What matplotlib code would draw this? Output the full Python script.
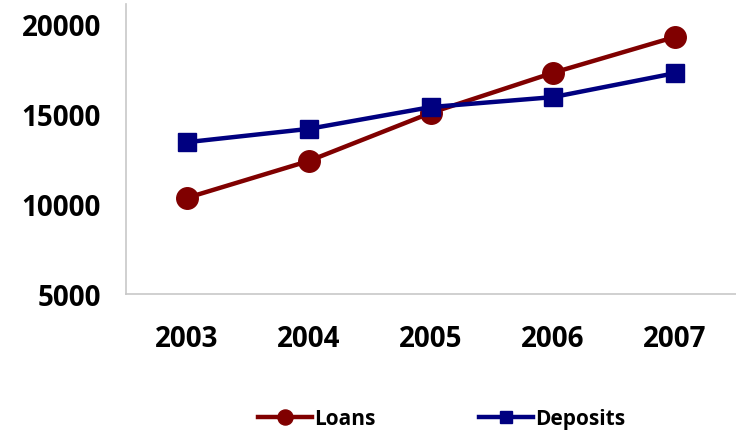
import matplotlib.pyplot as plt

years = ['2003', '2004', '2005', '2006', '2007']
loans = [10330, 12380, 15050, 17270, 19260]
deposits = [13420, 14160, 15370, 15920, 17250]
yticks = [5000, 10000, 15000, 20000]

plt.rcParams['font.family'] = ['Open Sans', 'DejaVu Sans']
plt.rcParams['font.weight'] = 'bold'

fig = plt.figure(figsize=(7.36, 4.35), dpi=100)
ax = fig.add_axes([0.171, 0.322, 0.829, 0.667])

x = range(len(years))
ax.plot(x, loans, color='#800000', lw=3.2, marker='o', ms=15.5, label='Loans')
ax.plot(x, deposits, color='#000080', lw=3.2, marker='s', ms=13, label='Deposits')

ax.set_xlim(-0.5, 4.5)
ax.set_ylim(5000, 21100)
ax.set_xticks(list(x))
ax.set_xticklabels(years)
ax.set_yticks(yticks)
ax.tick_params(length=0, labelsize=20)
ax.tick_params(axis='x', pad=22)
ax.tick_params(axis='y', pad=18)

for s in ['top', 'right']:
    ax.spines[s].set_visible(False)
for s in ['left', 'bottom']:
    ax.spines[s].set_color('#c8c8c8')
    ax.spines[s].set_linewidth(1.2)

fig.legend(loc='center', bbox_to_anchor=(0.6, 0.035), ncol=2, frameon=False,
           fontsize=15, handlelength=2.6, columnspacing=5, handletextpad=0.1,
           markerscale=0.7)

fig.savefig('out.png', dpi=100)
